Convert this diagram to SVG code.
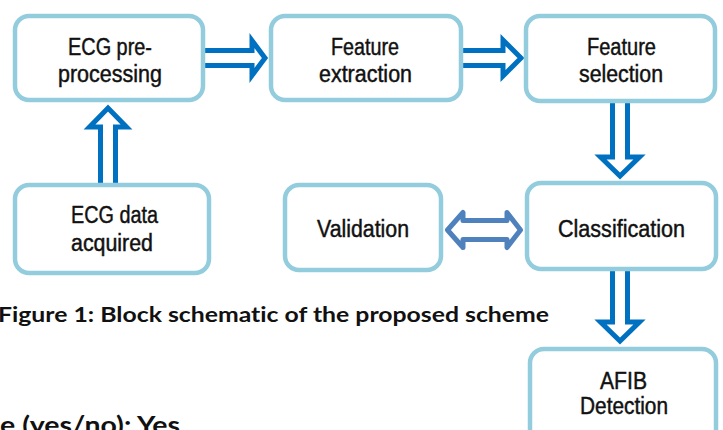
<svg xmlns="http://www.w3.org/2000/svg" width="723" height="430" viewBox="0 0 723 430">
<style>
.box{fill:#fff;stroke:#93CDDD;stroke-width:4.5}
.arr{fill:#fff;stroke:#0070C0;stroke-width:5;stroke-linejoin:miter;stroke-miterlimit:10}
.darr{fill:#fff;stroke:#4F81BD;stroke-width:5;stroke-linejoin:round}
.lbl{font-family:"Liberation Sans",Arial,sans-serif;font-size:23px;fill:#111;stroke:#111;stroke-width:0.45}
.cap{font-family:Lato,"Open Sans",sans-serif;font-weight:bold;fill:#111;font-variant-ligatures:none}
</style>
<rect width="723" height="430" fill="#fff"/>
<g id="connectors">
<polygon class="arr" points="200,50.5 252,50.5 252,40.5 265,58 252,75.5 252,65.5 200,65.5"/>
<polygon class="arr" points="455,50.5 503,50.5 503,40 521,58 503,76 503,65.5 455,65.5"/>
<polygon class="arr" points="100.5,192 100.5,127 89.5,127 108,108 126.5,127 115.5,127 115.5,192"/>
<polygon class="arr" points="612.5,95 612.5,157 600.5,157 620,176 639.5,157 627.5,157 627.5,95"/>
<polygon class="arr" points="612.5,262 612.5,322 600.5,322 620,341 639.5,322 627.5,322 627.5,262"/>
<polygon class="darr" points="447.5,230 463,212.5 463,220.5 507,220.5 507,212.5 520.5,230 507,247.5 507,239.5 463,239.5 463,247.5"/>
</g>
<g id="n1"><rect class="box" x="15" y="16" width="188" height="84" rx="14"/>
<text class="lbl" x="68" y="55" textLength="84" lengthAdjust="spacingAndGlyphs">ECG pre-</text>
<text class="lbl" x="58" y="82" textLength="104" lengthAdjust="spacingAndGlyphs">processing</text></g>
<g id="n2"><rect class="box" x="271" y="16" width="190" height="84" rx="14"/>
<text class="lbl" x="331" y="55" textLength="68" lengthAdjust="spacingAndGlyphs">Feature</text>
<text class="lbl" x="319" y="82" textLength="93" lengthAdjust="spacingAndGlyphs">extraction</text></g>
<g id="n3"><rect class="box" x="526" y="16" width="189" height="85" rx="14"/>
<text class="lbl" x="587" y="55" textLength="69" lengthAdjust="spacingAndGlyphs">Feature</text>
<text class="lbl" x="579" y="82" textLength="84" lengthAdjust="spacingAndGlyphs">selection</text></g>
<g id="n4"><rect class="box" x="15" y="185" width="194" height="88" rx="14"/>
<text class="lbl" x="71" y="223" textLength="87" lengthAdjust="spacingAndGlyphs">ECG data</text>
<text class="lbl" x="71" y="251" textLength="82" lengthAdjust="spacingAndGlyphs">acquired</text></g>
<g id="n5"><rect class="box" x="285" y="185" width="156" height="85" rx="14"/>
<text class="lbl" x="317" y="237" textLength="92" lengthAdjust="spacingAndGlyphs">Validation</text></g>
<g id="n6"><rect class="box" x="527" y="183" width="189" height="86" rx="14"/>
<text class="lbl" x="558" y="237" textLength="127" lengthAdjust="spacingAndGlyphs">Classification</text></g>
<g id="n7"><rect class="box" x="530" y="349" width="186" height="100" rx="14"/>
<text class="lbl" x="600" y="389" textLength="47" lengthAdjust="spacingAndGlyphs">AFIB</text>
<text class="lbl" x="580" y="414" textLength="88" lengthAdjust="spacingAndGlyphs">Detection</text></g>
<text class="cap" x="-2" y="322" font-size="21" textLength="551" lengthAdjust="spacingAndGlyphs">Figure 1:  Block schematic of the proposed scheme</text>
<text class="cap" x="0" y="434" font-size="24" textLength="180" lengthAdjust="spacingAndGlyphs">e (yes/no):  Yes</text>
</svg>
